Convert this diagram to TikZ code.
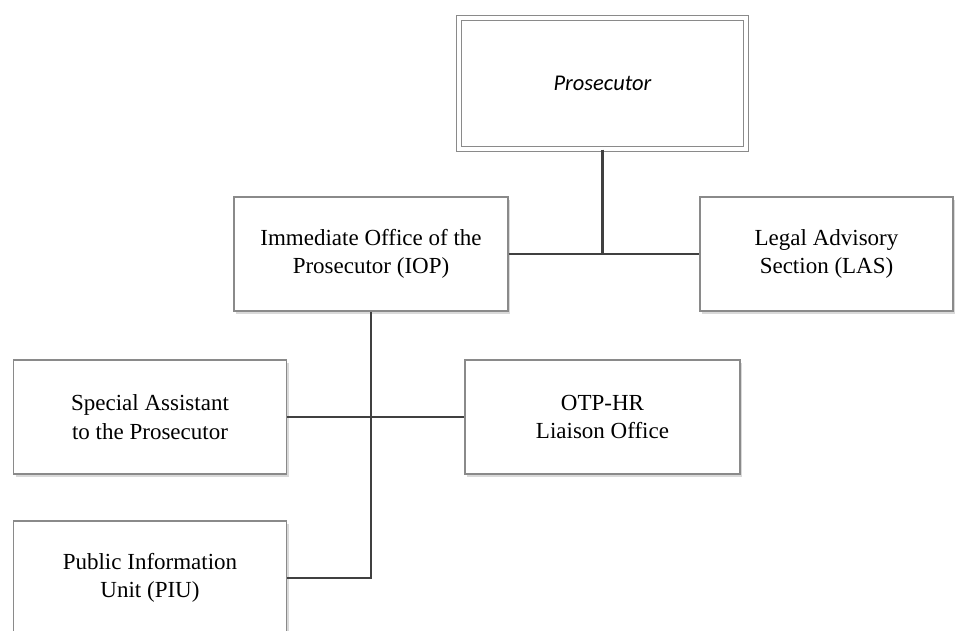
\documentclass[tikz,border=0pt]{standalone}
\usepackage{fontspec}
\setmainfont{Liberation Serif}
\newfontfamily\prosfont{Carlito}
\usetikzlibrary{shadows}
\definecolor{box grey}{HTML}{8a8a8a}
\definecolor{line grey}{HTML}{404040}
\tikzset{
    unit/.style={draw=box grey, line width=1.5pt, fill=white, align=center,
        minimum width=274pt, minimum height=114pt, inner sep=0pt,
        font=\fontsize{23}{28.5}\selectfont,
        drop shadow={shadow xshift=2pt, shadow yshift=-3pt, fill=black, opacity=0.15}},
    link/.style={draw=line grey, line width=2.2pt}
}
\begin{document}
\begin{tikzpicture}[x=1pt, y=-1pt]
            \useasboundingbox[fill=white] (0, 0) rectangle (958, 630);
            \node[unit, double, double distance=4pt, line width=1.2pt, minimum width=287pt, minimum height=131pt,
                font=\prosfont\itshape\fontsize{22.5}{27}\selectfont] (pros) at (602.5, 83.5) {Prosecutor};
            \node[unit] (iop) at (371, 254) {Immediate Office of the\\Prosecutor (IOP)};
            \node[unit, minimum width=253pt] (las) at (826.5, 254) {Legal Advisory\\Section (LAS)};
            \node[unit, minimum width=273pt] (spa) at (150, 417) {Special Assistant\\to the Prosecutor};
            \node[unit, minimum width=275pt] (hr) at (602.5, 417) {OTP-HR\\Liaison Office};
            \node[unit, minimum width=273pt] (piu) at (150, 578) {Public Information\\Unit (PIU)};
            % connectors
            \draw[link] (pros.south) -- (pros.south |- iop.east);
            \draw[link] (iop.east) -- (las.west);
            \draw[link] (spa.east) -- (hr.west);
            \draw[link] (iop.south) -- (iop.south |- piu.east) -- (piu.east);
        \end{tikzpicture}
\end{document}
